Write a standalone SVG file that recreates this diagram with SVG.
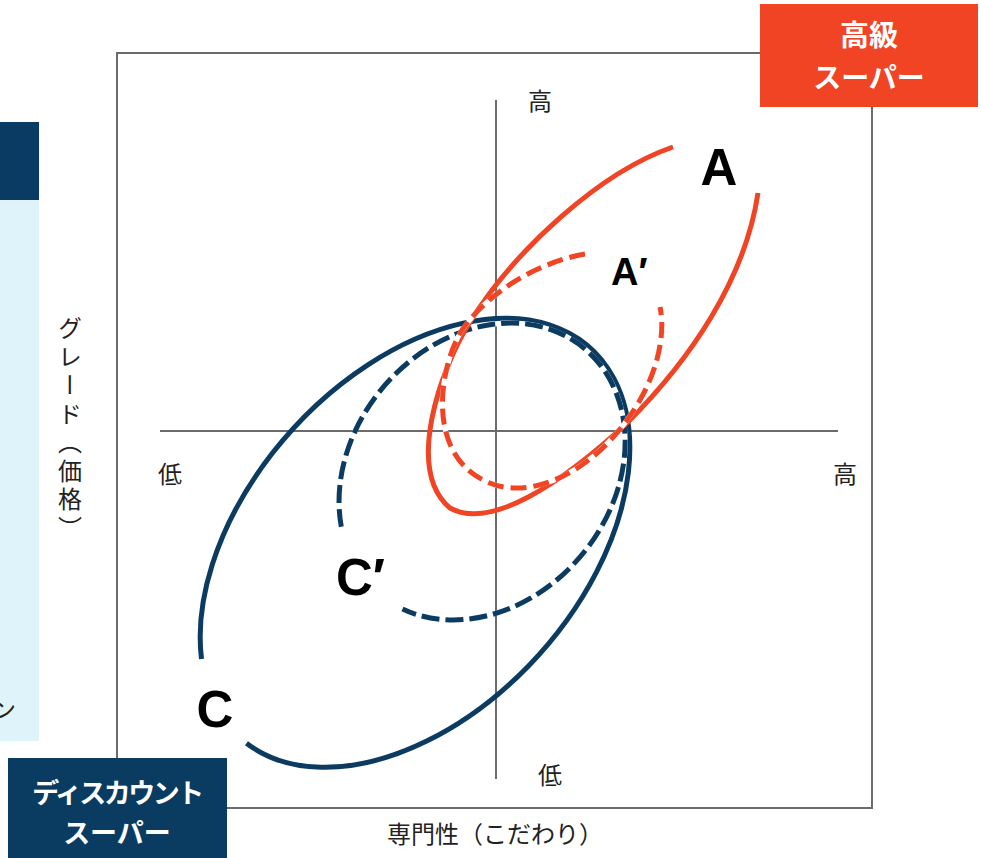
<svg xmlns="http://www.w3.org/2000/svg" width="981" height="858" viewBox="0 0 981 858">
<defs>
<style>
.ax{stroke:#6b6b6b;stroke-width:2;fill:none}
.red{stroke:#f04424;stroke-width:5;fill:none}
.blue{stroke:#0b3b61;stroke-width:5;fill:none}
.under{stroke:#ffffff;stroke-width:5;fill:none}
.dashA{stroke-dasharray:16 7}
.dashC{stroke-dasharray:18 6}
.lbl{font-family:"Noto Sans CJK JP","Noto Sans",sans-serif;font-size:24px;fill:#222}
.mid{text-anchor:middle}
.big{font-family:"Liberation Sans",Arial,sans-serif;font-weight:bold;fill:#000}
.box{font-family:"Noto Sans CJK JP",sans-serif;font-weight:bold;fill:#fff;text-anchor:middle}
</style>
</defs>
<rect width="981" height="858" fill="#ffffff"/>

<g id="side-panel">
<rect x="0" y="122" width="39" height="78" fill="#0a3b62"/>
<rect x="0" y="200" width="39" height="541" fill="#dff3fb"/>
<text x="-8" y="718" class="lbl">ン</text>
</g>

<g id="frame-axes">
<rect x="117" y="53" width="755" height="755" class="ax"/>
<line x1="496" y1="100" x2="496" y2="779" class="ax"/>
<line x1="160" y1="431" x2="838" y2="431" class="ax"/>
</g>

<g id="axis-labels">
<text x="540" y="110" class="lbl mid">高</text>
<text x="170" y="483" class="lbl mid">低</text>
<text x="845" y="483" class="lbl mid">高</text>
<text x="550" y="784" class="lbl mid">低</text>
<text x="495" y="843" class="lbl mid">専門性（こだわり）</text>
<text x="70" y="316" class="lbl" style="writing-mode:vertical-rl;letter-spacing:4.5px">グレード（価格）</text>
</g>

<g id="connectors">
<path id="curve-C" class="blue" d="M 201.5,659 A 262 167 -48 1 1 246.5,743.2"/>
<g id="curve-Cprime">
<path class="under" d="M 341.3,526.8 A 160 130 -50.2 1 1 402.5,609"/>
<path class="blue dashC" d="M 341.3,526.8 A 160 130 -50.2 1 1 402.5,609"/>
</g>
<path id="curve-A" class="red" d="M 673,147 C 600,172 515,250 470,322 C 440,370 405,470 450,508 C 490,530 560,485 627,423 C 690,360 745,280 758,193"/>
<g id="curve-Aprime">
<path class="under" d="M 585,254 C 540,262 490,290 462,330 C 440,365 425,450 483,480 C 530,505 600,470 640,400 C 660,365 665,330 660,307"/>
<path class="red dashA" d="M 585,254 C 540,262 490,290 462,330 C 440,365 425,450 483,480 C 530,505 600,470 640,400 C 660,365 665,330 660,307"/>
</g>
</g>

<g id="label-A"><text x="719" y="185" class="big mid" font-size="51">A</text></g>
<g id="label-Aprime"><text x="611" y="285" class="big" font-size="38">A′</text></g>
<g id="label-C"><text x="215" y="727" class="big mid" font-size="51">C</text></g>
<g id="label-Cprime"><text x="336" y="595" class="big" font-size="51">C′</text></g>

<g id="node-premium">
<rect x="760" y="4" width="218" height="103" fill="#f04425"/>
<text x="869" y="46" class="box" font-size="29">高級</text>
<text x="869" y="88" class="box" font-size="28">スーパー</text>
</g>

<g id="node-discount">
<rect x="8" y="758" width="219" height="100" fill="#0a3c62"/>
<text x="117" y="803" class="box" font-size="27" style="letter-spacing:-2.5px">ディスカウント</text>
<text x="117" y="843" class="box" font-size="27">スーパー</text>
</g>
</svg>
